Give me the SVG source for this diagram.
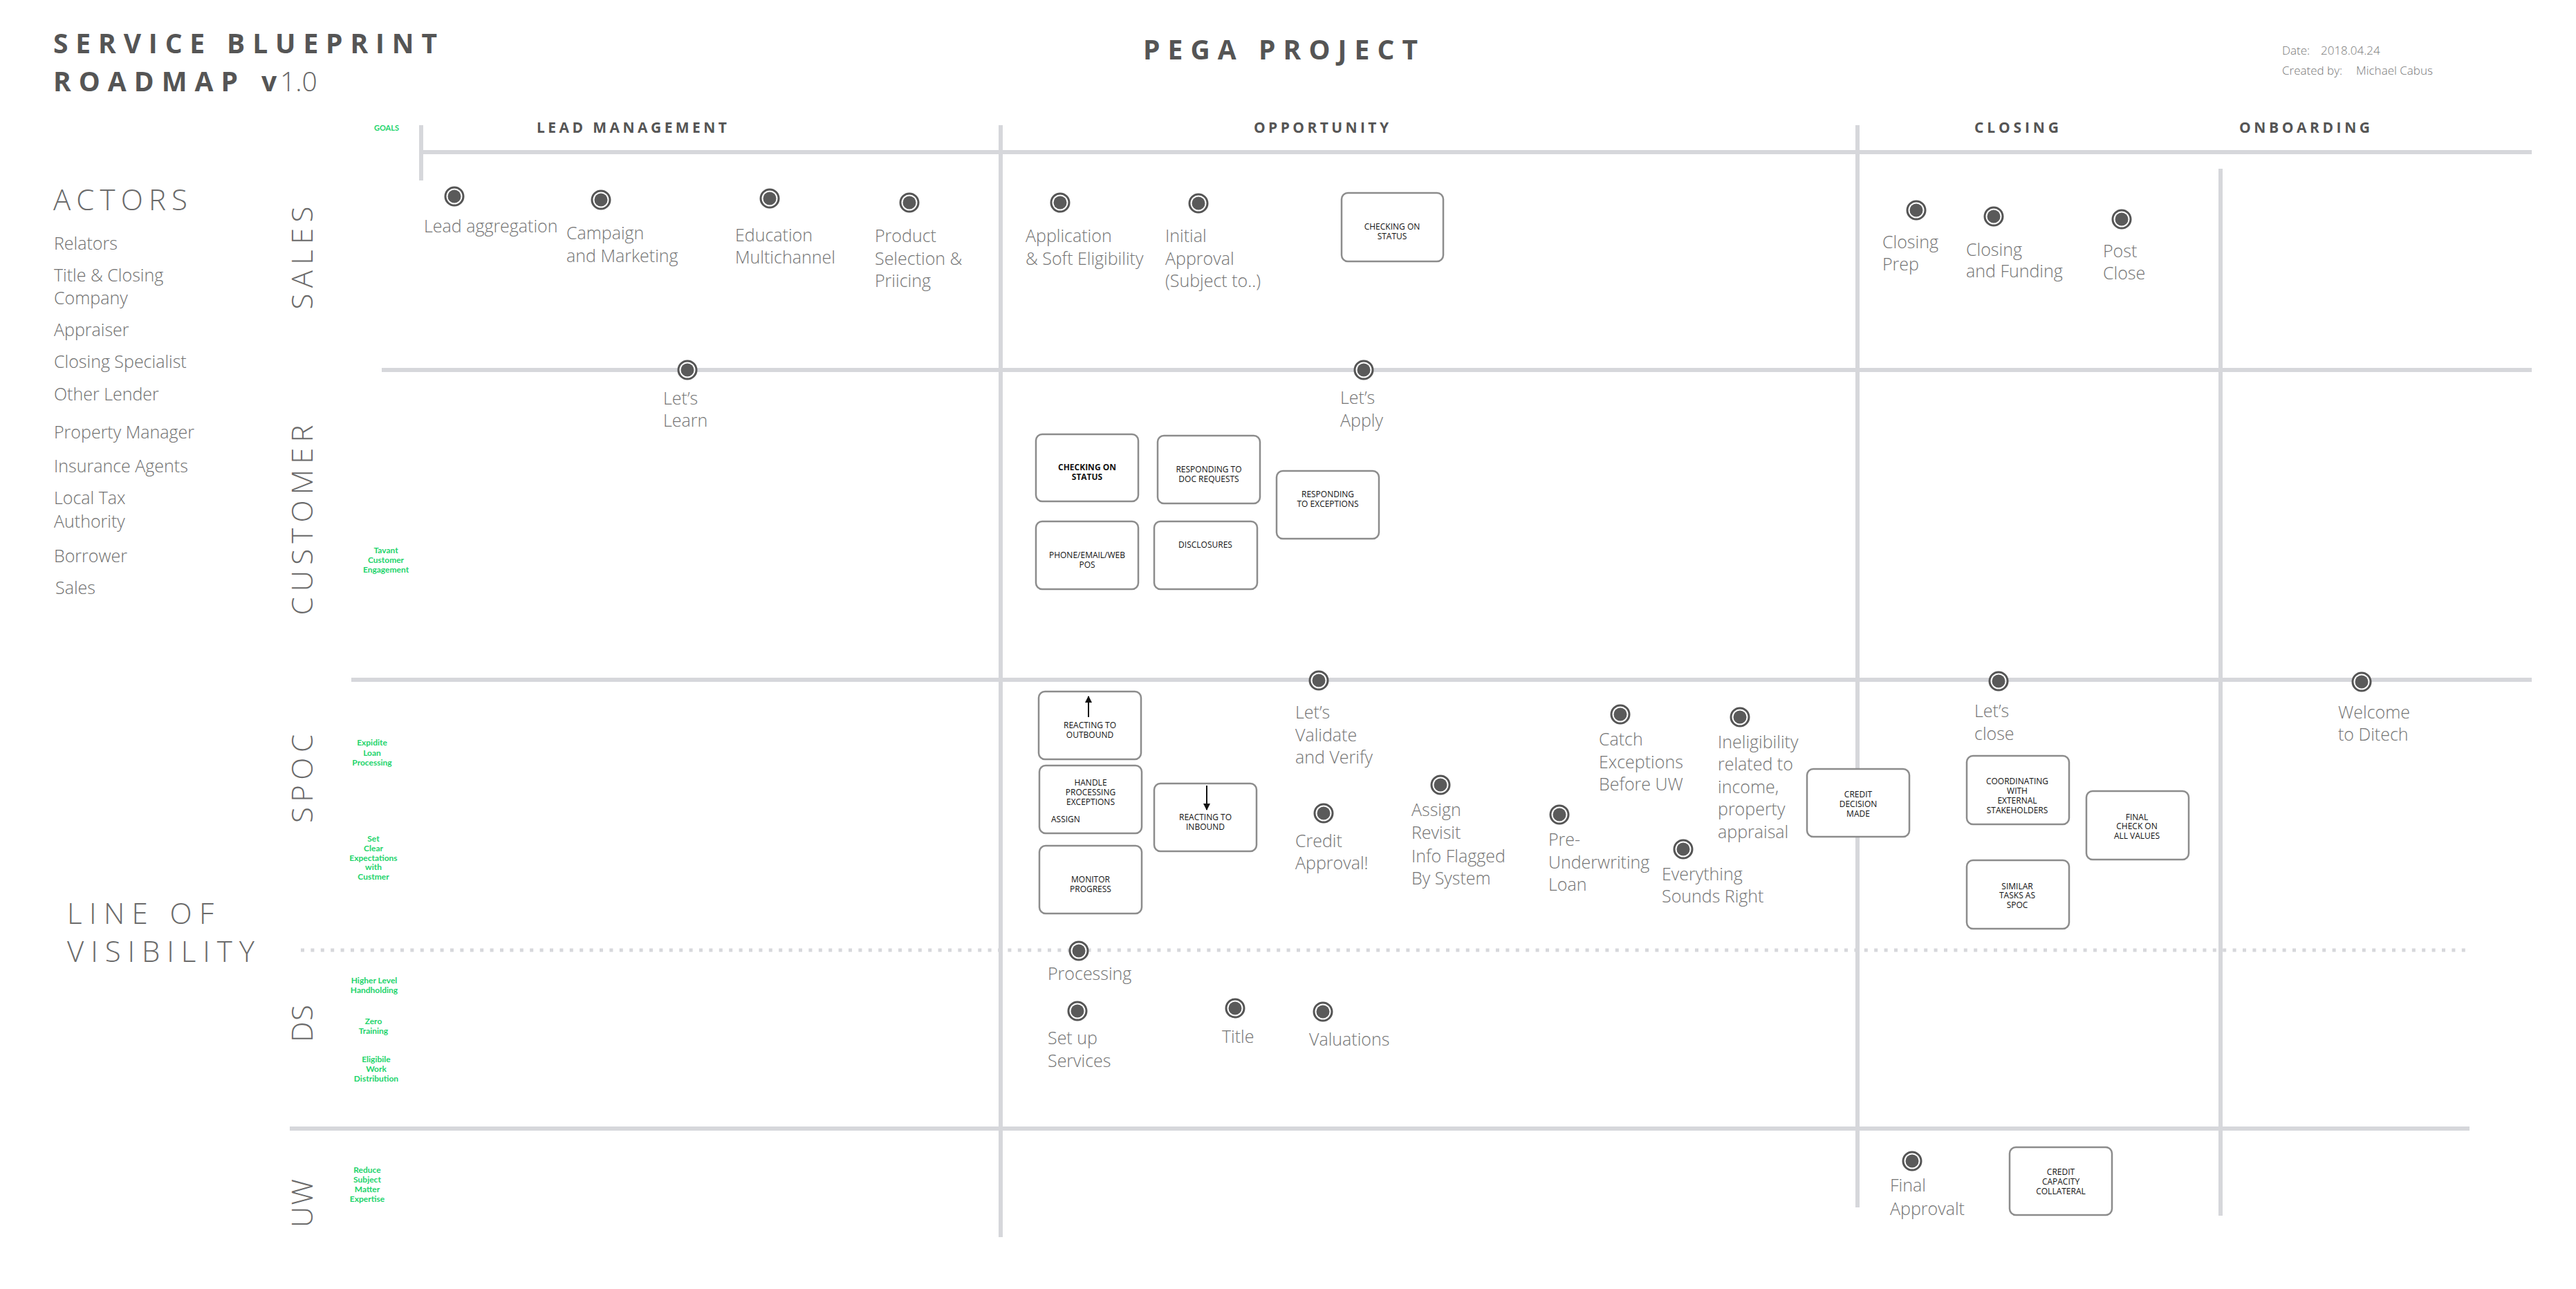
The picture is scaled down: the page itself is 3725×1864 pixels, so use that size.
<svg xmlns="http://www.w3.org/2000/svg" xmlns:xlink="http://www.w3.org/1999/xlink" width="3725" height="1864" viewBox="0 0 3725 1864">
<style>
.bg{fill:#ffffff}
.grid{stroke:#d6d7db;stroke-width:6;fill:none}
.dotted{stroke:#d6d7db;stroke-width:5;stroke-dasharray:5 9.4;fill:none}
.title{font-family:"Open Sans","Liberation Sans",sans-serif;font-weight:700;font-size:39px;fill:#555555}
.titlel{font-family:"Open Sans","Liberation Sans",sans-serif;font-weight:300;font-size:39px;fill:#666666}
.head{font-family:"Open Sans","Liberation Sans",sans-serif;font-weight:300;font-size:42px;fill:#6a6a6a}
.phase{font-family:"Open Sans","Liberation Sans",sans-serif;font-weight:700;font-size:21px;fill:#555555}
.meta{font-family:"Open Sans","Liberation Sans",sans-serif;font-weight:300;font-size:17px;fill:#777777}
.actor{font-family:"Open Sans","Liberation Sans",sans-serif;font-weight:300;font-size:25px;fill:#707070}
.lbl{font-family:"Open Sans","Liberation Sans",sans-serif;font-weight:300;font-size:25px;fill:#747474}
.box{fill:#ffffff;stroke:#8c8c8c;stroke-width:2.5}
.bt{font-family:"Open Sans","Liberation Sans",sans-serif;font-weight:400;font-size:12px;fill:#111111;text-anchor:middle}
.btb{font-family:"Open Sans","Liberation Sans",sans-serif;font-weight:700;font-size:12px;fill:#111111;text-anchor:middle}
.btl{font-family:"Open Sans","Liberation Sans",sans-serif;font-weight:400;font-size:12px;fill:#111111}
.goal{font-family:Lato,"Open Sans","Liberation Sans",sans-serif;font-weight:700;font-size:12px;fill:#1dd46b;text-anchor:middle}
.arrow{stroke:#111111;stroke-width:2;fill:none}
</style>
<defs>
<g id="dot"><circle r="13" fill="#ffffff" stroke="#555555" stroke-width="3"/><circle r="9.5" fill="#5a5a5a"/></g>
<marker id="ah" markerUnits="userSpaceOnUse" markerWidth="10" markerHeight="10" refX="9" refY="5" orient="auto"><path d="M0,0 L10,5 L0,10 Z" fill="#111111"/></marker>
</defs>
<rect class="bg" x="0" y="0" width="3725" height="1864"/>

<g id="header">
<text class="title" x="77" y="77" textLength="555" lengthAdjust="spacing">SERVICE BLUEPRINT</text>
<text class="title" x="77" y="132" textLength="267" lengthAdjust="spacing">ROADMAP</text>
<text class="title" x="378" y="132">v</text>
<text class="titlel" x="405" y="132">1.0</text>
<text class="title" x="1653" y="86" textLength="397" lengthAdjust="spacing">PEGA PROJECT</text>
<text class="meta" x="3300" y="79">Date:</text>
<text class="meta" x="3356" y="79">2018.04.24</text>
<text class="meta" x="3300" y="108">Created by:</text>
<text class="meta" x="3407" y="108">Michael Cabus</text>
</g>

<g id="grid">
<line class="grid" x1="609" y1="181" x2="609" y2="261"/>
<line class="grid" x1="1447" y1="181" x2="1447" y2="1789"/>
<line class="grid" x1="2686" y1="181" x2="2686" y2="1746"/>
<line class="grid" x1="3211" y1="244" x2="3211" y2="1758"/>
<line class="grid" x1="609" y1="220" x2="3661" y2="220"/>
<line class="grid" x1="552" y1="535" x2="3661" y2="535"/>
<line class="grid" x1="508" y1="983" x2="3661" y2="983"/>
<line class="dotted" x1="435" y1="1374" x2="3571" y2="1374"/>
<line class="grid" x1="419" y1="1632" x2="3571" y2="1632"/>
</g>

<g id="phases">
<text class="phase" x="776" y="192" textLength="275" lengthAdjust="spacing">LEAD MANAGEMENT</text>
<text class="phase" x="1813" y="192" textLength="195" lengthAdjust="spacing">OPPORTUNITY</text>
<text class="phase" x="2855" y="192" textLength="122" lengthAdjust="spacing">CLOSING</text>
<text class="phase" x="3238" y="192" textLength="189" lengthAdjust="spacing">ONBOARDING</text>
<text class="goal" x="559" y="189" style="font-size:11px">GOALS</text>
</g>

<g id="actors">
<text class="head" x="77" y="304" textLength="194" lengthAdjust="spacing">ACTORS</text>
<text class="actor" x="78" y="361">Relators</text>
<text class="actor" x="78" y="407">Title &amp; Closing</text>
<text class="actor" x="78" y="440">Company</text>
<text class="actor" x="78" y="486">Appraiser</text>
<text class="actor" x="78" y="532">Closing Specialist</text>
<text class="actor" x="78" y="579">Other Lender</text>
<text class="actor" x="78" y="634">Property Manager</text>
<text class="actor" x="78" y="683">Insurance Agents</text>
<text class="actor" x="78" y="729">Local Tax</text>
<text class="actor" x="78" y="763">Authority</text>
<text class="actor" x="78" y="813">Borrower</text>
<text class="actor" x="80" y="859">Sales</text>
</g>

<g id="lanes">
<text class="head" text-anchor="middle" transform="translate(452,373) rotate(-90)" textLength="149" lengthAdjust="spacing">SALES</text>
<text class="head" text-anchor="middle" transform="translate(452,752) rotate(-90)" textLength="275" lengthAdjust="spacing">CUSTOMER</text>
<text class="head" text-anchor="middle" transform="translate(452,1126) rotate(-90)" textLength="128" lengthAdjust="spacing">SPOC</text>
<text class="head" text-anchor="middle" transform="translate(452,1480) rotate(-90)" textLength="54" lengthAdjust="spacing">DS</text>
<text class="head" text-anchor="middle" transform="translate(452,1740) rotate(-90)" textLength="70" lengthAdjust="spacing">UW</text>
<text class="head" x="97" y="1336" textLength="212" lengthAdjust="spacing">LINE OF</text>
<text class="head" x="97" y="1391" textLength="271" lengthAdjust="spacing">VISIBILITY</text>
</g>

<g id="goals">
<text class="goal" x="558" y="800">Tavant</text>
<text class="goal" x="558" y="814">Customer</text>
<text class="goal" x="558" y="828">Engagement</text>
<text class="goal" x="538" y="1078">Expidite</text>
<text class="goal" x="538" y="1093">Loan</text>
<text class="goal" x="538" y="1107">Processing</text>
<text class="goal" x="540" y="1217">Set</text>
<text class="goal" x="540" y="1231">Clear</text>
<text class="goal" x="540" y="1245">Expectations</text>
<text class="goal" x="540" y="1258">with</text>
<text class="goal" x="540" y="1272">Custmer</text>
<text class="goal" x="541" y="1422">Higher Level</text>
<text class="goal" x="541" y="1436">Handholding</text>
<text class="goal" x="540" y="1481">Zero</text>
<text class="goal" x="540" y="1495">Training</text>
<text class="goal" x="544" y="1536">Eligibile</text>
<text class="goal" x="544" y="1550">Work</text>
<text class="goal" x="544" y="1564">Distribution</text>
<text class="goal" x="531" y="1696">Reduce</text>
<text class="goal" x="531" y="1710">Subject</text>
<text class="goal" x="531" y="1724">Matter</text>
<text class="goal" x="531" y="1738">Expertise</text>
</g>

<!-- SALES lane -->
<g id="lead-aggregation"><use xlink:href="#dot" x="657" y="284"/><text class="lbl" x="613" y="336">Lead aggregation</text></g>
<g id="campaign"><use xlink:href="#dot" x="869" y="289"/><text class="lbl" x="819" y="346">Campaign</text><text class="lbl" x="819" y="379">and Marketing</text></g>
<g id="education"><use xlink:href="#dot" x="1113" y="287"/><text class="lbl" x="1063" y="349">Education</text><text class="lbl" x="1063" y="381">Multichannel</text></g>
<g id="product"><use xlink:href="#dot" x="1315" y="293"/><text class="lbl" x="1265" y="350">Product</text><text class="lbl" x="1265" y="383">Selection &amp;</text><text class="lbl" x="1265" y="415">Priicing</text></g>
<g id="application"><use xlink:href="#dot" x="1533" y="293"/><text class="lbl" x="1483" y="350">Application</text><text class="lbl" x="1483" y="383">&amp; Soft Eligibility</text></g>
<g id="initial-approval"><use xlink:href="#dot" x="1733" y="294"/><text class="lbl" x="1685" y="350">Initial</text><text class="lbl" x="1685" y="383">Approval</text><text class="lbl" x="1685" y="415">(Subject to..)</text></g>
<g id="sales-checking-status"><rect class="box" x="1940" y="279" width="147" height="99" rx="9"/><text class="bt" x="2013" y="332">CHECKING ON</text><text class="bt" x="2013" y="346">STATUS</text></g>
<g id="closing-prep"><use xlink:href="#dot" x="2771" y="304"/><text class="lbl" x="2722" y="359">Closing</text><text class="lbl" x="2722" y="391">Prep</text></g>
<g id="closing-funding"><use xlink:href="#dot" x="2883" y="313"/><text class="lbl" x="2843" y="370">Closing</text><text class="lbl" x="2843" y="401">and Funding</text></g>
<g id="post-close"><use xlink:href="#dot" x="3068" y="317"/><text class="lbl" x="3041" y="372">Post</text><text class="lbl" x="3041" y="404">Close</text></g>

<!-- CUSTOMER lane -->
<g id="lets-learn"><use xlink:href="#dot" x="994" y="535"/><text class="lbl" x="959" y="585">Let’s</text><text class="lbl" x="959" y="617">Learn</text></g>
<g id="lets-apply"><use xlink:href="#dot" x="1972" y="535"/><text class="lbl" x="1938" y="584">Let’s</text><text class="lbl" x="1938" y="617">Apply</text></g>
<g id="cust-checking-status"><rect class="box" x="1498" y="628" width="148" height="97" rx="9"/><text class="btb" x="1572" y="680">CHECKING ON</text><text class="btb" x="1572" y="694">STATUS</text></g>
<g id="doc-requests"><rect class="box" x="1674" y="630" width="148" height="98" rx="9"/><text class="bt" x="1748" y="683">RESPONDING TO</text><text class="bt" x="1748" y="697">DOC REQUESTS</text></g>
<g id="resp-exceptions"><rect class="box" x="1846" y="681" width="148" height="98" rx="9"/><text class="bt" x="1920" y="719">RESPONDING</text><text class="bt" x="1920" y="733">TO EXCEPTIONS</text></g>
<g id="phone-email"><rect class="box" x="1498" y="754" width="148" height="98" rx="9"/><text class="bt" x="1572" y="807">PHONE/EMAIL/WEB</text><text class="bt" x="1572" y="821">POS</text></g>
<g id="disclosures"><rect class="box" x="1669" y="754" width="149" height="98" rx="9"/><text class="bt" x="1743" y="792">DISCLOSURES</text></g>

<!-- SPOC lane -->
<g id="lets-validate"><use xlink:href="#dot" x="1907" y="984"/><text class="lbl" x="1873" y="1039">Let’s</text><text class="lbl" x="1873" y="1072">Validate</text><text class="lbl" x="1873" y="1104">and Verify</text></g>
<g id="credit-approval"><use xlink:href="#dot" x="1914" y="1176"/><text class="lbl" x="1873" y="1225">Credit</text><text class="lbl" x="1873" y="1257">Approval!</text></g>
<g id="assign"><use xlink:href="#dot" x="2083" y="1135"/><text class="lbl" x="2041" y="1180">Assign</text><text class="lbl" x="2041" y="1213">Revisit</text><text class="lbl" x="2041" y="1247">Info Flagged</text><text class="lbl" x="2041" y="1279">By System</text></g>
<g id="pre-underwriting"><use xlink:href="#dot" x="2255" y="1178"/><text class="lbl" x="2239" y="1223">Pre-</text><text class="lbl" x="2239" y="1256">Underwriting</text><text class="lbl" x="2239" y="1288">Loan</text></g>
<g id="catch-exceptions"><use xlink:href="#dot" x="2343" y="1033"/><text class="lbl" x="2312" y="1078">Catch</text><text class="lbl" x="2312" y="1111">Exceptions</text><text class="lbl" x="2312" y="1143">Before UW</text></g>
<g id="ineligibility"><use xlink:href="#dot" x="2516" y="1037"/><text class="lbl" x="2484" y="1082">Ineligibility</text><text class="lbl" x="2484" y="1114">related to</text><text class="lbl" x="2484" y="1147">income,</text><text class="lbl" x="2484" y="1179">property</text><text class="lbl" x="2484" y="1212">appraisal</text></g>
<g id="everything-right"><use xlink:href="#dot" x="2434" y="1228"/><text class="lbl" x="2403" y="1273">Everything</text><text class="lbl" x="2403" y="1305">Sounds Right</text></g>
<g id="credit-decision"><rect class="box" x="2613" y="1112" width="148" height="98" rx="9"/><text class="bt" x="2687" y="1153">CREDIT</text><text class="bt" x="2687" y="1167">DECISION</text><text class="bt" x="2687" y="1181">MADE</text></g>
<g id="lets-close"><use xlink:href="#dot" x="2890" y="985"/><text class="lbl" x="2855" y="1037">Let’s</text><text class="lbl" x="2855" y="1070">close</text></g>
<g id="welcome"><use xlink:href="#dot" x="3415" y="986"/><text class="lbl" x="3381" y="1039">Welcome</text><text class="lbl" x="3381" y="1071">to Ditech</text></g>
<g id="coordinating"><rect class="box" x="2844" y="1093" width="148" height="99" rx="9"/><text class="bt" x="2917" y="1134">COORDINATING</text><text class="bt" x="2917" y="1148">WITH</text><text class="bt" x="2917" y="1162">EXTERNAL</text><text class="bt" x="2917" y="1176">STAKEHOLDERS</text></g>
<g id="final-check"><rect class="box" x="3017" y="1144" width="148" height="99" rx="9"/><text class="bt" x="3090" y="1186">FINAL</text><text class="bt" x="3090" y="1199">CHECK ON</text><text class="bt" x="3090" y="1213">ALL VALUES</text></g>
<g id="similar-tasks"><rect class="box" x="2844" y="1244" width="148" height="99" rx="9"/><text class="bt" x="2917" y="1286">SIMILAR</text><text class="bt" x="2917" y="1299">TASKS AS</text><text class="bt" x="2917" y="1313">SPOC</text></g>
<g id="reacting-outbound"><rect class="box" x="1502" y="1000" width="148" height="98" rx="9"/><text class="bt" x="1576" y="1053">REACTING TO</text><text class="bt" x="1576" y="1067">OUTBOUND</text></g>
<g id="handle-exceptions"><rect class="box" x="1503" y="1107" width="148" height="98" rx="9"/><text class="bt" x="1577" y="1136">HANDLE</text><text class="bt" x="1577" y="1150">PROCESSING</text><text class="bt" x="1577" y="1164">EXCEPTIONS</text><text class="btl" x="1520" y="1189">ASSIGN</text></g>
<g id="monitor-progress"><rect class="box" x="1503" y="1223" width="148" height="98" rx="9"/><text class="bt" x="1577" y="1276">MONITOR</text><text class="bt" x="1577" y="1290">PROGRESS</text></g>
<g id="reacting-inbound"><rect class="box" x="1669" y="1133" width="148" height="98" rx="9"/><text class="bt" x="1743" y="1186">REACTING TO</text><text class="bt" x="1743" y="1200">INBOUND</text></g>

<!-- DS lane -->
<g id="processing"><use xlink:href="#dot" x="1560" y="1375"/><text class="lbl" x="1515" y="1417">Processing</text></g>
<g id="set-up-services"><use xlink:href="#dot" x="1558" y="1462"/><text class="lbl" x="1515" y="1510">Set up</text><text class="lbl" x="1515" y="1543">Services</text></g>
<g id="title"><use xlink:href="#dot" x="1786" y="1458"/><text class="lbl" x="1767" y="1508">Title</text></g>
<g id="valuations"><use xlink:href="#dot" x="1913" y="1463"/><text class="lbl" x="1893" y="1512">Valuations</text></g>

<!-- UW lane -->
<g id="final-approval"><use xlink:href="#dot" x="2765" y="1679"/><text class="lbl" x="2733" y="1723">Final</text><text class="lbl" x="2733" y="1757">Approvalt</text></g>
<g id="credit-capacity"><rect class="box" x="2906" y="1659" width="148" height="98" rx="9"/><text class="bt" x="2980" y="1699">CREDIT</text><text class="bt" x="2980" y="1713">CAPACITY</text><text class="bt" x="2980" y="1727">COLLATERAL</text></g>

<g id="connectors">
<line class="arrow" x1="1574" y1="1037" x2="1574" y2="1007" marker-end="url(#ah)"/>
<line class="arrow" x1="1745" y1="1136" x2="1745" y2="1171" marker-end="url(#ah)"/>
</g>
</svg>
